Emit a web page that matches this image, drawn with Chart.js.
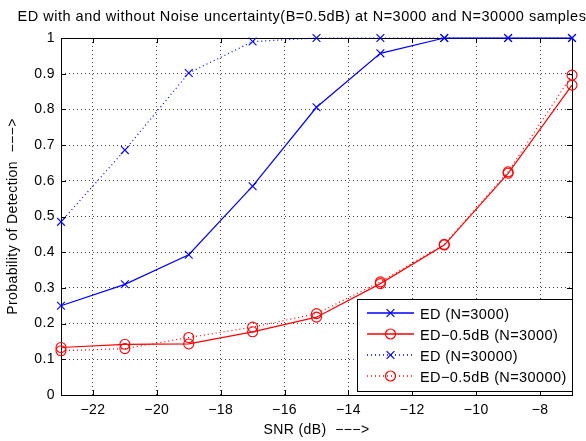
<!DOCTYPE html>
<html><head><meta charset="utf-8">
<script src="https://cdn.jsdelivr.net/npm/chart.js@4.4.0/dist/chart.umd.min.js"></script>
<style>html,body{margin:0;padding:0;background:#fff}canvas{display:block}</style>
</head><body>
<canvas id="c" width="586" height="441"></canvas>
<script>
// ---- data ----
const snr = [-23, -21, -19, -17, -15, -13, -11, -9, -7];
const ed3000 = [0.25, 0.31, 0.393, 0.585, 0.806, 0.957, 1.0, 1.0, 1.0];
const edNU3000 = [0.133, 0.142, 0.143, 0.177, 0.218, 0.312, 0.42, 0.621, 0.868];
const ed30000 = [0.485, 0.686, 0.902, 0.99, 1.0, 1.0, 1.0, 1.0, 1.0];
const edNU30000 = [0.124, 0.13, 0.161, 0.19, 0.228, 0.317, 0.422, 0.625, 0.896];
const xTicks = [-22, -20, -18, -16, -14, -12, -10, -8];
const yTicks = [0, 0.1, 0.2, 0.3, 0.4, 0.5, 0.6, 0.7, 0.8, 0.9, 1];
const seriesLabels = ['ED (N=3000)', 'ED\u22120.5dB (N=3000)', 'ED (N=30000)', 'ED\u22120.5dB (N=30000)'];
const titleText = 'ED with and without Noise uncertainty(B=0.5dB) at N=3000 and N=30000 samples';
const xTitle = 'SNR (dB)  \u2212\u2212\u2212>';
const yTitle = 'Probability of Detection  \u2212\u2212\u2212>';

const FONT = '"Liberation Sans", Arial, Helvetica, sans-serif';
const BLUE = 'rgb(0,0,255)', RED = 'rgb(255,0,0)';
const seriesColors = [BLUE, RED, BLUE, RED];
const seriesStyles = ['crossRot', 'circle', 'crossRot', 'circle'];
const seriesDashed = [false, false, true, true];
const seriesData = [ed3000, edNU3000, ed30000, edNU30000];
const toPts = arr => arr.map((v, i) => ({x: snr[i], y: v}));

function ds(i) {
  const color = seriesColors[i], style = seriesStyles[i];
  return {
    label: seriesLabels[i], data: toPts(seriesData[i]),
    borderColor: color, backgroundColor: 'rgba(0,0,0,0)',
    borderWidth: 1.2, borderDash: seriesDashed[i] ? [1, 3] : [],
    pointStyle: style, pointRadius: style === 'circle' ? 5 : 5.5,
    pointBorderColor: color, pointBackgroundColor: 'rgba(0,0,0,0)',
    pointBorderWidth: 1.1, pointHoverRadius: 5,
    tension: 0, fill: false, clip: 6
  };
}

function marker(ctx, style, r, cx, cy, color) {
  ctx.save();
  ctx.setLineDash([]);
  ctx.strokeStyle = color; ctx.lineWidth = 1.2;
  ctx.beginPath();
  if (style === 'circle') {
    ctx.arc(cx, cy, r, 0, Math.PI * 2);
  } else {
    const d = r * Math.SQRT1_2;
    ctx.moveTo(cx - d, cy - d); ctx.lineTo(cx + d, cy + d);
    ctx.moveTo(cx + d, cy - d); ctx.lineTo(cx - d, cy + d);
  }
  ctx.stroke();
  ctx.restore();
}

const frame = {
  id: 'frame',
  beforeDraw(chart) {
    chart.ctx.letterSpacing = '0.4px';
  },
  beforeDatasetsDraw(chart) {
    const {ctx, chartArea: a, scales: {x, y}} = chart;
    ctx.save();
    ctx.letterSpacing = '0px';
    ctx.strokeStyle = '#000'; ctx.lineWidth = 1; ctx.setLineDash([]);
    ctx.beginPath();
    xTicks.forEach(v => {
      const px = Math.round(x.getPixelForValue(v)) + 0.5;
      ctx.moveTo(px, a.bottom); ctx.lineTo(px, a.bottom - 5);
      ctx.moveTo(px, a.top); ctx.lineTo(px, a.top + 5);
    });
    yTicks.forEach(v => {
      const py = Math.round(y.getPixelForValue(v)) + 0.5;
      ctx.moveTo(a.left, py); ctx.lineTo(a.left + 5, py);
      ctx.moveTo(a.right, py); ctx.lineTo(a.right - 5, py);
    });
    ctx.stroke();
    ctx.strokeRect(Math.round(a.left) + 0.5, Math.round(a.top) + 0.5, Math.round(a.right - a.left), Math.round(a.bottom - a.top));
    ctx.restore();
  },
  afterDraw(chart) {
    const {ctx} = chart;
    ctx.save();
    // title
    ctx.fillStyle = '#000';
    ctx.letterSpacing = '0.5px';
    ctx.font = '14.5px ' + FONT;
    ctx.textAlign = 'center'; ctx.textBaseline = 'alphabetic';
    ctx.fillText(titleText, 302, 21);

    // legend box
    const lx = 357, ly = 299, lw = 215, lh = 92;
    ctx.fillStyle = '#fff';
    ctx.fillRect(lx, ly, lw, lh);
    ctx.strokeStyle = '#000'; ctx.lineWidth = 1; ctx.setLineDash([]);
    ctx.strokeRect(lx + 0.5, ly + 0.5, lw, lh);
    ctx.letterSpacing = '0.4px';
    seriesLabels.forEach((label, i) => {
      const rowY = 313 + i * 21;
      const color = seriesColors[i];
      ctx.save();
      ctx.strokeStyle = color; ctx.lineWidth = 1.5;
      ctx.setLineDash(seriesDashed[i] ? [1, 3] : []);
      ctx.beginPath(); ctx.moveTo(367, rowY); ctx.lineTo(414, rowY); ctx.stroke();
      ctx.restore();
      marker(ctx, seriesStyles[i], seriesStyles[i] === 'circle' ? 5 : 5.5, 390.5, rowY, color);
      ctx.fillStyle = '#000';
      ctx.font = '14.5px ' + FONT;
      ctx.textAlign = 'left'; ctx.textBaseline = 'middle';
      ctx.fillText(label, 420, rowY + 1.5);
    });
    ctx.restore();
  }
};

new Chart(document.getElementById('c'), {
  type: 'line',
  data: {datasets: [ds(0), ds(1), ds(2), ds(3)]},
  options: {
    responsive: false, animation: false,
    layout: {padding: {top: 38, right: 14, left: 0, bottom: 0}},
    plugins: {legend: {display: false}, title: {display: false}, tooltip: {enabled: false}},
    scales: {
      x: {
        type: 'linear', min: -23, max: -7,
        afterBuildTicks: s => { s.ticks = xTicks.map(v => ({value: v})); },
        afterFit: s => { s.height = 46; },
        ticks: {
          color: '#000', font: {family: FONT, size: 14}, padding: 7, maxRotation: 0,
          callback: v => (v < 0 ? '\u2212' + Math.abs(v) : String(v))
        },
        grid: {color: '#444', lineWidth: 1, drawTicks: false},
        border: {display: false, dash: [1, 3]},
        title: {display: true, text: xTitle, color: '#000', font: {family: FONT, size: 14}, padding: {top: 0, bottom: 2}}
      },
      y: {
        type: 'linear', min: 0, max: 1,
        afterBuildTicks: s => { s.ticks = yTicks.map(v => ({value: v})); },
        afterFit: s => { s.width = 61; },
        ticks: {
          color: '#000', font: {family: FONT, size: 14}, padding: 6,
          callback: v => String(Math.round(v * 10) / 10)
        },
        grid: {color: '#444', lineWidth: 1, drawTicks: false},
        border: {display: false, dash: [1, 3]},
        title: {display: true, text: yTitle, color: '#000', font: {family: FONT, size: 14}, padding: {top: 5, bottom: 0}}
      }
    }
  },
  plugins: [frame]
});
</script>
</body></html>
